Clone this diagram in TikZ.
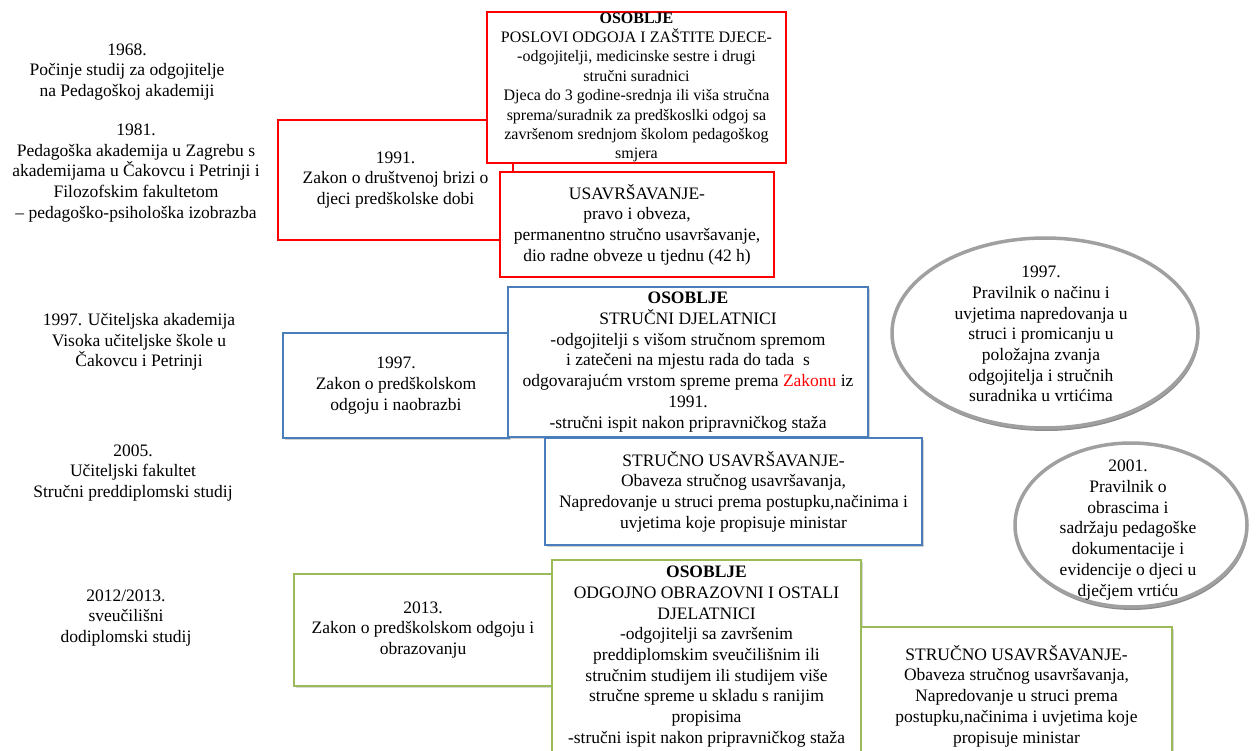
\documentclass[tikz,border=0pt]{standalone}
\usepackage{fontspec}
\setmainfont{Liberation Serif}
\usetikzlibrary{shapes.geometric,shadows}
\definecolor{redb}{HTML}{FF0000}
\definecolor{blueb}{HTML}{4A7EBB}
\definecolor{greenb}{HTML}{9BBB59}
\definecolor{ellg}{HTML}{A0A0A0}
\begin{document}
\begin{tikzpicture}[x=1pt,y=-1pt,
  txt/.style={align=center, font=\fontsize{17.5}{20.7}\selectfont, inner sep=0pt},
  box/.style={rectangle, fill=white, inner sep=0pt, align=center, font=\fontsize{17.5}{20.7}\selectfont},
  redbox/.style={box, draw=redb, line width=2.5},
  bluebox/.style={box, draw=blueb, line width=2.2, general shadow={fill=black!18, shadow xshift=1.5pt, shadow yshift=-2pt}},
  greenbox/.style={box, draw=greenb, line width=2.6, general shadow={fill=black!15, shadow xshift=1.5pt, shadow yshift=-2pt}},
  ell/.style={ellipse, draw=ellg, line width=3.5, fill=white, inner sep=0pt, general shadow={fill=black!45, shadow xshift=1pt, shadow yshift=-3pt}}]
\useasboundingbox[fill=white] (0,0) rectangle (1256,751);

% left timeline texts
\node[txt] (t1968) at (127,72) {1968.\\Počinje studij za odgojitelje\\na Pedagoškoj akademiji};
\node[txt] (t1981) at (136,173) {1981.\\Pedagoška akademija u Zagrebu s\\akademijama u Čakovcu i Petrinji i\\Filozofskim fakultetom\\– pedagoško-psihološka izobrazba};
\node[txt] (t1997) at (139,342) {1997. Učiteljska akademija\\Visoka učiteljske škole u\\Čakovcu i Petrinji};
\node[txt] (t2005) at (133,473) {2005.\\Učiteljski fakultet\\Stručni preddiplomski studij};
\node[txt] (t2012) at (126,618) {2012/2013.\\sveučilišni\\dodiplomski studij};

% red group (1991)
\node[redbox, minimum width=235, minimum height=120] (law91) at (395.5,180) {1991.\\Zakon o društvenoj brizi o\\djeci predškolske dobi};
\node[redbox, minimum width=299, minimum height=151, font=\fontsize{16}{19.4}\selectfont] (osob91) at (636.5,87.5)
  {\textbf{OSOBLJE}\\POSLOVI ODGOJA I ZAŠTITE DJECE-\\-odgojitelji, medicinske sestre i drugi\\stručni suradnici\\Djeca do 3 godine-srednja ili viša stručna\\sprema/suradnik za predškoslki odgoj sa\\završenom srednjom školom pedagoškog\\smjera};
\node[redbox, minimum width=274, minimum height=105] (usav91) at (637,224.5)
  {USAVRŠAVANJE-\\pravo i obveza,\\permanentno stručno usavršavanje,\\dio radne obveze u tjednu (42 h)};

% blue group (1997)
\node[bluebox, minimum width=226, minimum height=105] (law97) at (396,385.5) {1997.\\Zakon o predškolskom\\odgoju i naobrazbi};
\node[bluebox, minimum width=360, minimum height=150] (osob97) at (688,362)
  {\textbf{OSOBLJE}\\STRUČNI DJELATNICI\\-odgojitelji s višom stručnom spremom\\i zatečeni na mjestu rada do tada\ \ s\\odgovarajućm vrstom spreme prema \textcolor{redb}{Zakonu} iz\\1991.\\-stručni ispit nakon pripravničkog staža};
\node[bluebox, minimum width=377, minimum height=107] (stru97) at (733.5,491.5)
  {STRUČNO USAVRŠAVANJE-\\Obaveza stručnog usavršavanja,\\Napredovanje u struci prema postupku,načinima i\\uvjetima koje propisuje ministar};

% grey ellipses
\node[ell, minimum width=306, minimum height=190] (e97) at (1045,333) {};
\node[txt] (e97t) at (1041,334) {1997.\\Pravilnik o načinu i\\uvjetima napredovanja u\\struci i promicanju u\\položajna zvanja\\odgojitelja i stručnih\\suradnika u vrtićima};
\node[ell, minimum width=232, minimum height=164] (e01) at (1131,525) {};
\node[txt] (e01t) at (1128,530) {2001.\\Pravilnik o\\obrascima i\\sadržaju pedagoške\\dokumentacije i\\evidencije o djeci u\\dječjem vrtiću};

% green group (2013)
\node[greenbox, minimum width=258, minimum height=112] (law13) at (423,630) {2013.\\Zakon o predškolskom odgoju i\\obrazovanju};
\node[greenbox, minimum width=309, minimum height=193] (osob13) at (706.5,656.5)
  {\textbf{OSOBLJE}\\ODGOJNO OBRAZOVNI I OSTALI\\DJELATNICI\\-odgojitelji sa završenim\\preddiplomskim sveučilišnim ili\\stručnim studijem ili studijem više\\stručne spreme u skladu s ranijim\\propisima\\-stručni ispit nakon pripravničkog staža};
\node[greenbox, minimum width=311, minimum height=138] (stru13) at (1016.5,696)
  {STRUČNO USAVRŠAVANJE-\\Obaveza stručnog usavršavanja,\\Napredovanje u struci prema\\postupku,načinima i uvjetima koje\\propisuje ministar};
\end{tikzpicture}
\end{document}
